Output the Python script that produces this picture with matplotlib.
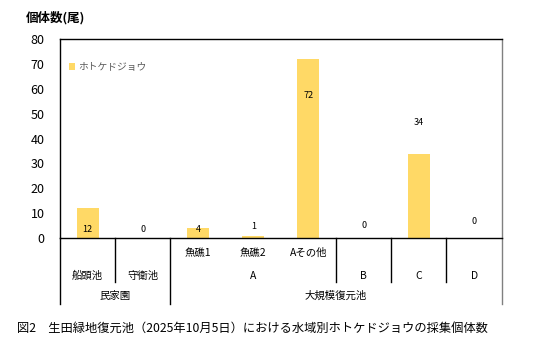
import matplotlib
matplotlib.use("Agg")
import matplotlib.pyplot as plt
import matplotlib.transforms as mtransforms
from matplotlib.patches import Patch

plt.rcParams['font.family'] = ['Noto Sans CJK JP', 'DejaVu Sans']

# ---- data ----
level0 = ["", "", "魚礁1", "魚礁2", "Aその他", "", "", ""]
level1 = ["船頭池", "守衛池", "A", "B", "C", "D"]
level1_pos = [0, 1, 3, 5, 6, 7]
level2 = ["民家園", "大規模復元池"]
level2_pos = [0.5, 4.5]
values = [12, 0, 4, 1, 72, 0, 34, 0]
label_y = [3.6, 3.6, 3.6, 4.6, 57.5, 5.2, 46.6, 6.5]
series_name = "ホトケドジョウ"
yticks = [0, 10, 20, 30, 40, 50, 60, 70, 80]
caption = "図2　生田緑地復元池（2025年10月5日）における水域別ホトケドジョウの採集個体数"
ytitle = "個体数(尾)"

W, H = 535, 359
fig = plt.figure(figsize=(W / 100, H / 100), dpi=100)
ax = fig.add_axes([60 / W, 1 - 238 / H, (501.7 - 60) / W, (238 - 39.3) / H])

bar_color = "#FFD966"
x = list(range(len(values)))
ax.bar(x, values, width=0.40, color=bar_color, edgecolor="none", zorder=2)
for xi, v, ly in zip(x, values, label_y):
    ax.text(xi, ly, str(v), ha="center", va="center", fontsize=6.5, color="#000000", zorder=3)

ax.set_xlim(-0.5, len(values) - 0.5)
ax.set_ylim(0, 80)
ax.set_yticks(yticks)
ax.set_yticklabels([str(t) for t in yticks], fontsize=9)
ax.tick_params(axis="y", length=0, pad=11)
ax.set_xticks([])

for s in ["left", "top", "bottom"]:
    ax.spines[s].set_color("#000000")
    ax.spines[s].set_linewidth(1.0)
ax.spines["right"].set_color("#808080")
ax.spines["right"].set_linewidth(1.0)

tr = mtransforms.blended_transform_factory(ax.transData, ax.transAxes)
axh = 238 - 39.3
def fy(py):
    return -(py - 238) / axh

# category divider lines
short_div = [0.5, 4.5, 5.5, 6.5]
long_div = [-0.5, 1.5, 7.5]
for d in short_div:
    ax.plot([d, d], [0, fy(282)], transform=tr, color="#000000", lw=1.0, clip_on=False)
for d in long_div:
    c = "#808080" if d == 7.5 else "#000000"
    ax.plot([d, d], [0, fy(304)], transform=tr, color=c, lw=1.0, clip_on=False)

# category labels
for xi, t in enumerate(level0):
    if t:
        ax.text(xi, fy(253), t, transform=tr, ha="center", va="center", fontsize=7.5)
for p, t in zip(level1_pos, level1):
    ax.text(p, fy(276), t, transform=tr, ha="center", va="center", fontsize=7.5)
for p, t in zip(level2_pos, level2):
    ax.text(p, fy(296), t, transform=tr, ha="center", va="center", fontsize=7.5)

# legend
leg = ax.legend(handles=[Patch(facecolor=bar_color, edgecolor="none", label=series_name)],
                loc="center left", bbox_to_anchor=(0.005, 1 - (67 - 39.3) / axh),
                frameon=False, fontsize=7, handlelength=0.6, handleheight=0.6,
                handletextpad=0.3, borderpad=0.2)
for t in leg.get_texts():
    t.set_color("#595959")

fig.text(26 / W, 1 - 18 / H, ytitle, ha="left", va="center", fontsize=9, fontweight="bold")
fig.text(17 / W, 1 - 328 / H, caption, ha="left", va="center", fontsize=8.8)

fig.savefig("out.png", dpi=100)
